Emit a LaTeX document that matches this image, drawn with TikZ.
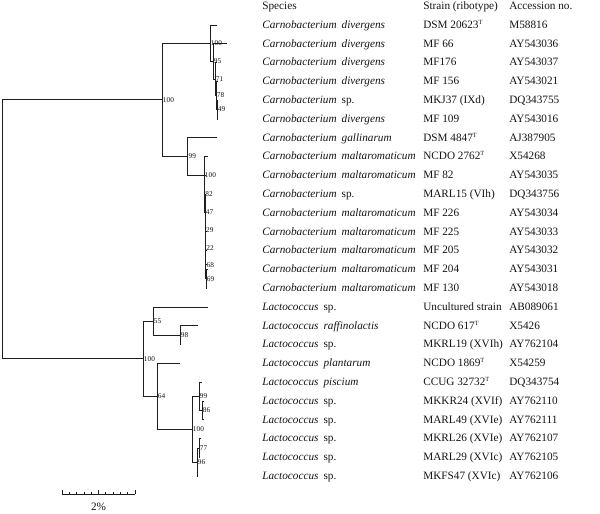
\documentclass[tikz,border=0pt]{standalone}
\usepackage{fontspec}
\setmainfont{Liberation Serif}
\usetikzlibrary{
    calc
}
\definecolor{ink}{RGB}{20,20,20}
\definecolor{branchline}{RGB}{30,30,30}
\newcommand{\taxname}[2]{\textit{#1}\hspace{0.45em}#2}
\newcommand{\typeT}{\textsuperscript{\fontsize{4.5}{5}\selectfont T}}
\tikzset{
    branch/.style={
        draw=branchline,
        line width=0.65pt
    },
    support/.style={
        font=\fontsize{5.2}{6}\selectfont,
        text=ink,
        anchor=west,
        inner sep=0.5pt
    },
    rowtext/.style={
        font=\fontsize{8}{10}\selectfont,
        text=ink,
        anchor=base west,
        inner sep=0pt
    },
    scaletick/.style={
        draw=branchline,
        line width=0.45pt
    }
}

\begin{document}
\begin{tikzpicture}[x=0.025cm, y=-0.025cm]
\useasboundingbox (0,0) rectangle (600,514);

% Column heads
\node[rowtext] (hspecies) at (262,9.5) {Species};
\node[rowtext] (hstrain) at (423,9.5) {Strain (ribotype)};
\node[rowtext] (hacc) at (509,9.5) {Accession no.};

% Carnobacterium rows
\node[rowtext] (sp1) at (262,28.3) {\taxname{Carnobacterium}{\textit{divergens}}};
\node[rowtext] (st1) at (423,28.3) {DSM 20623\typeT};
\node[rowtext] (ac1) at (509,28.3) {M58816};
\node[rowtext] (sp2) at (262,47.1) {\taxname{Carnobacterium}{\textit{divergens}}};
\node[rowtext] (st2) at (423,47.1) {MF 66};
\node[rowtext] (ac2) at (509,47.1) {AY543036};
\node[rowtext] (sp3) at (262,65.9) {\taxname{Carnobacterium}{\textit{divergens}}};
\node[rowtext] (st3) at (423,65.9) {MF176};
\node[rowtext] (ac3) at (509,65.9) {AY543037};
\node[rowtext] (sp4) at (262,84.7) {\taxname{Carnobacterium}{\textit{divergens}}};
\node[rowtext] (st4) at (423,84.7) {MF 156};
\node[rowtext] (ac4) at (509,84.7) {AY543021};
\node[rowtext] (sp5) at (262,103.5) {\taxname{Carnobacterium}{sp.}};
\node[rowtext] (st5) at (423,103.5) {MKJ37 (IXd)};
\node[rowtext] (ac5) at (509,103.5) {DQ343755};
\node[rowtext] (sp6) at (262,122.3) {\taxname{Carnobacterium}{\textit{divergens}}};
\node[rowtext] (st6) at (423,122.3) {MF 109};
\node[rowtext] (ac6) at (509,122.3) {AY543016};
\node[rowtext] (sp7) at (262,141.1) {\taxname{Carnobacterium}{\textit{gallinarum}}};
\node[rowtext] (st7) at (423,141.1) {DSM 4847\typeT};
\node[rowtext] (ac7) at (509,141.1) {AJ387905};
\node[rowtext] (sp8) at (262,159.9) {\taxname{Carnobacterium}{\textit{maltaromaticum}}};
\node[rowtext] (st8) at (423,159.9) {NCDO 2762\typeT};
\node[rowtext] (ac8) at (509,159.9) {X54268};
\node[rowtext] (sp9) at (262,178.7) {\taxname{Carnobacterium}{\textit{maltaromaticum}}};
\node[rowtext] (st9) at (423,178.7) {MF 82};
\node[rowtext] (ac9) at (509,178.7) {AY543035};
\node[rowtext] (sp10) at (262,197.5) {\taxname{Carnobacterium}{sp.}};
\node[rowtext] (st10) at (423,197.5) {MARL15 (VIh)};
\node[rowtext] (ac10) at (509,197.5) {DQ343756};
\node[rowtext] (sp11) at (262,216.3) {\taxname{Carnobacterium}{\textit{maltaromaticum}}};
\node[rowtext] (st11) at (423,216.3) {MF 226};
\node[rowtext] (ac11) at (509,216.3) {AY543034};
\node[rowtext] (sp12) at (262,235.1) {\taxname{Carnobacterium}{\textit{maltaromaticum}}};
\node[rowtext] (st12) at (423,235.1) {MF 225};
\node[rowtext] (ac12) at (509,235.1) {AY543033};
\node[rowtext] (sp13) at (262,253.9) {\taxname{Carnobacterium}{\textit{maltaromaticum}}};
\node[rowtext] (st13) at (423,253.9) {MF 205};
\node[rowtext] (ac13) at (509,253.9) {AY543032};
\node[rowtext] (sp14) at (262,272.7) {\taxname{Carnobacterium}{\textit{maltaromaticum}}};
\node[rowtext] (st14) at (423,272.7) {MF 204};
\node[rowtext] (ac14) at (509,272.7) {AY543031};
\node[rowtext] (sp15) at (262,291.5) {\taxname{Carnobacterium}{\textit{maltaromaticum}}};
\node[rowtext] (st15) at (423,291.5) {MF 130};
\node[rowtext] (ac15) at (509,291.5) {AY543018};

% Lactococcus rows
\node[rowtext] (sp16) at (262,310.3) {\taxname{Lactococcus}{sp.}};
\node[rowtext] (st16) at (423,310.3) {Uncultured strain};
\node[rowtext] (ac16) at (509,310.3) {AB089061};
\node[rowtext] (sp17) at (262,329.1) {\taxname{Lactococcus}{\textit{raffinolactis}}};
\node[rowtext] (st17) at (423,329.1) {NCDO 617\typeT};
\node[rowtext] (ac17) at (509,329.1) {X5426};
\node[rowtext] (sp18) at (262,347.9) {\taxname{Lactococcus}{sp.}};
\node[rowtext] (st18) at (423,347.9) {MKRL19 (XVIh)};
\node[rowtext] (ac18) at (509,347.9) {AY762104};
\node[rowtext] (sp19) at (262,366.7) {\taxname{Lactococcus}{\textit{plantarum}}};
\node[rowtext] (st19) at (423,366.7) {NCDO 1869\typeT};
\node[rowtext] (ac19) at (509,366.7) {X54259};
\node[rowtext] (sp20) at (262,385.5) {\taxname{Lactococcus}{\textit{piscium}}};
\node[rowtext] (st20) at (423,385.5) {CCUG 32732\typeT};
\node[rowtext] (ac20) at (509,385.5) {DQ343754};
\node[rowtext] (sp21) at (262,404.3) {\taxname{Lactococcus}{sp.}};
\node[rowtext] (st21) at (423,404.3) {MKKR24 (XVIf)};
\node[rowtext] (ac21) at (509,404.3) {AY762110};
\node[rowtext] (sp22) at (262,423.1) {\taxname{Lactococcus}{sp.}};
\node[rowtext] (st22) at (423,423.1) {MARL49 (XVIe)};
\node[rowtext] (ac22) at (509,423.1) {AY762111};
\node[rowtext] (sp23) at (262,441.9) {\taxname{Lactococcus}{sp.}};
\node[rowtext] (st23) at (423,441.9) {MKRL26 (XVIe)};
\node[rowtext] (ac23) at (509,441.9) {AY762107};
\node[rowtext] (sp24) at (262,460.7) {\taxname{Lactococcus}{sp.}};
\node[rowtext] (st24) at (423,460.7) {MARL29 (XVIc)};
\node[rowtext] (ac24) at (509,460.7) {AY762105};
\node[rowtext] (sp25) at (262,479.5) {\taxname{Lactococcus}{sp.}};
\node[rowtext] (st25) at (423,479.5) {MKFS47 (XVIc)};
\node[rowtext] (ac25) at (509,479.5) {AY762106};

% Inner nodes of the tree
\coordinate (root) at (2,229.3);
\coordinate (carno) at (162,99.9);
\coordinate (d100) at (210,43.2);
\coordinate (d95) at (213,61.4);
\coordinate (d71) at (215,79.0);
\coordinate (d78) at (216,95.5);
\coordinate (d49) at (217,109.6);
\coordinate (m99) at (187.7,156.5);
\coordinate (m100) at (204,175.25);
\coordinate (m82) at (204.5,193.9);
\coordinate (m47) at (205,212.4);
\coordinate (m29) at (205.2,230.6);
\coordinate (m22) at (205.5,248.25);
\coordinate (m68) at (205.7,264.7);
\coordinate (m69) at (206,278.8);
\coordinate (lacto) at (143,358.7);
\coordinate (l55) at (153,321.1);
\coordinate (l98) at (180,335.2);
\coordinate (l64) at (157,396.3);
\coordinate (l100) at (192,429.2);
\coordinate (l99) at (199,396.3);
\coordinate (l86) at (202,410.4);
\coordinate (l96) at (197,462.1);
\coordinate (l77) at (199,448.0);

% Leaf tips
\coordinate (t1) at (217,25.0);
\coordinate (t2) at (227,43.8);
\coordinate (t3) at (217,62.6);
\coordinate (t4) at (217.5,81.4);
\coordinate (t5) at (218,100.2);
\coordinate (t6) at (218,119.0);
\coordinate (t7) at (217,137.8);
\coordinate (t8) at (207.5,156.6);
\coordinate (t9) at (205.5,175.4);
\coordinate (t10) at (206,194.2);
\coordinate (t11) at (206,213.0);
\coordinate (t12) at (206.5,231.8);
\coordinate (t13) at (206.5,250.6);
\coordinate (t14) at (208,269.4);
\coordinate (t15) at (206.5,288.2);
\coordinate (t16) at (208,307.0);
\coordinate (t17) at (198,325.8);
\coordinate (t18) at (181,344.6);
\coordinate (t19) at (180,363.4);
\coordinate (t20) at (202,382.2);
\coordinate (t21) at (203.5,401.0);
\coordinate (t22) at (203.5,419.8);
\coordinate (t23) at (201,438.6);
\coordinate (t24) at (200,457.4);
\coordinate (t25) at (198,476.2);

% Branches
\draw[branch] (root) |- (carno);
\draw[branch] (root) |- (lacto);
\draw[branch] (carno) |- (d100);
\draw[branch] (carno) |- (m99);
\draw[branch] (d100) |- (t1);
\draw[branch] (d100) |- (d95);
\draw[branch] (d95) |- (t2);
\draw[branch] (d95) |- (d71);
\draw[branch] (d71) |- (t3);
\draw[branch] (d71) |- (d78);
\draw[branch] (d78) |- (t4);
\draw[branch] (d78) |- (d49);
\draw[branch] (d49) |- (t5);
\draw[branch] (d49) |- (t6);
\draw[branch] (m99) |- (t7);
\draw[branch] (m99) |- (m100);
\draw[branch] (m100) |- (t8);
\draw[branch] (m100) |- (m82);
\draw[branch] (m82) |- (t9);
\draw[branch] (m82) |- (m47);
\draw[branch] (m47) |- (t10);
\draw[branch] (m47) |- (m29);
\draw[branch] (m29) |- (t11);
\draw[branch] (m29) |- (m22);
\draw[branch] (m22) |- (t12);
\draw[branch] (m22) |- (m68);
\draw[branch] (m68) |- (t13);
\draw[branch] (m68) |- (m69);
\draw[branch] (m69) |- (t14);
\draw[branch] (m69) |- (t15);
\draw[branch] (lacto) |- (l55);
\draw[branch] (lacto) |- (l64);
\draw[branch] (l55) |- (t16);
\draw[branch] (l55) |- (l98);
\draw[branch] (l98) |- (t17);
\draw[branch] (l98) |- (t18);
\draw[branch] (l64) |- (t19);
\draw[branch] (l64) |- (l100);
\draw[branch] (l100) |- (l99);
\draw[branch] (l100) |- (l96);
\draw[branch] (l99) |- (t20);
\draw[branch] (l99) |- (l86);
\draw[branch] (l86) |- (t21);
\draw[branch] (l86) |- (t22);
\draw[branch] (l96) |- (l77);
\draw[branch] (l96) |- (t25);
\draw[branch] (l77) |- (t23);
\draw[branch] (l77) |- (t24);

% Bootstrap values
\node[support] (bcarno) at (carno) {100};
\node[support] (bd100) at (d100) {100};
\node[support] (bd95) at (d95) {95};
\node[support] (bd71) at (d71) {71};
\node[support] (bd78) at (d78) {78};
\node[support] (bd49) at (d49) {49};
\node[support] (bm99) at (m99) {99};
\node[support] (bm100) at (m100) {100};
\node[support] (bm82) at (m82) {82};
\node[support] (bm47) at (m47) {47};
\node[support] (bm29) at (m29) {29};
\node[support] (bm22) at (m22) {22};
\node[support] (bm68) at (m68) {68};
\node[support] (bm69) at (m69) {69};
\node[support] (blacto) at (lacto) {100};
\node[support] (bl55) at (l55) {55};
\node[support] (bl98) at (l98) {98};
\node[support] (bl64) at (l64) {64};
\node[support] (bl100) at (l100) {100};
\node[support] (bl99) at (l99) {99};
\node[support] (bl86) at (l86) {86};
\node[support] (bl77) at (l77) {77};
\node[support] (bl96) at (l96) {96};

% Scale bar
\coordinate (sbl) at (62,494);
\coordinate (sbr) at (135,494);
\draw[scaletick] (sbl) -- (sbr);
\foreach \k in {0,...,10} {
    \draw[scaletick] ($(sbl)!\k/10!(sbr)$) -- ++(0,-2.5);
}
\draw[scaletick] (sbl) -- ++(0,-4);
\draw[scaletick] ($(sbl)!0.5!(sbr)$) -- ++(0,-4);
\draw[scaletick] (sbr) -- ++(0,-4);
\node[rowtext, anchor=base] (sblabel) at ($(sbl)!0.5!(sbr)+(0,16)$) {2\%};

\end{tikzpicture}
\end{document}
